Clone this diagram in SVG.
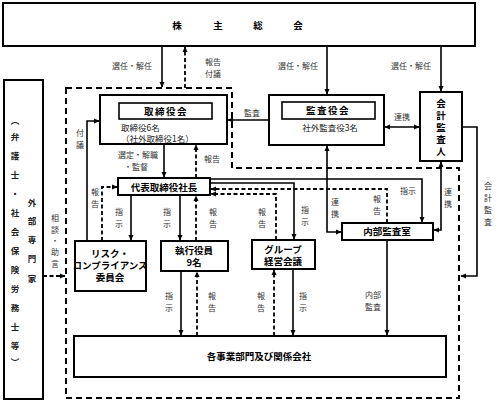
<svg xmlns="http://www.w3.org/2000/svg" width="503" height="412" viewBox="0 0 503 412">
<defs>
<style>
text{font-family:"Noto Sans CJK JP","Noto Sans",sans-serif;}
.box{fill:#fff;stroke:#000;stroke-width:2;}
.ibox{fill:#fff;stroke:#000;stroke-width:1.6;}
.t{font-size:9.5px;font-weight:bold;fill:#000;text-anchor:middle;}
.s{font-size:8.5px;fill:#222;}
.lb{font-size:8px;fill:#333;text-anchor:middle;}
.ln{fill:none;stroke:#000;stroke-width:1.6;}
.dl{fill:none;stroke:#000;stroke-width:1.8;stroke-dasharray:4 2.5;}
.region{fill:none;stroke:#000;stroke-width:2;stroke-dasharray:6 4;}
</style>
<marker id="ah" viewBox="0 0 10 10" refX="9" refY="5" markerWidth="6" markerHeight="6" markerUnits="userSpaceOnUse" orient="auto-start-reverse"><path d="M0,0.5 L10,5 L0,9.5 z" fill="#000"/></marker>
</defs>
<rect width="503" height="412" fill="#fff"/>

<path class="region" d="M66,88 H232 V168 H459 V398 H66 Z"/>

<g id="shareholders">
<rect class="box" x="3" y="3" width="472" height="43"/>
<text class="t" y="29" font-size="11"><tspan x="177">株</tspan><tspan x="218">主</tspan><tspan x="258">総</tspan><tspan x="298">会</tspan></text>
</g>

<g id="experts">
<rect class="box" x="4" y="80" width="39" height="319"/>
<text class="s" text-anchor="middle" font-size="9" font-weight="bold">
<tspan x="15" y="124">︵</tspan><tspan x="15" y="140">弁</tspan><tspan x="15" y="159">護</tspan><tspan x="15" y="178">士</tspan><tspan x="15" y="197">・</tspan><tspan x="15" y="216">社</tspan><tspan x="15" y="235">会</tspan><tspan x="15" y="254">保</tspan><tspan x="15" y="273">険</tspan><tspan x="15" y="292">労</tspan><tspan x="15" y="311">務</tspan><tspan x="15" y="330">士</tspan><tspan x="15" y="349">等</tspan><tspan x="15" y="365">︶</tspan>
</text>
<text class="s" text-anchor="middle" font-size="9" font-weight="bold">
<tspan x="32" y="206">外</tspan><tspan x="32" y="224">部</tspan><tspan x="32" y="243">専</tspan><tspan x="32" y="262">門</tspan><tspan x="32" y="282">家</tspan>
</text>
</g>

<g id="board">
<rect class="box" x="100" y="95" width="127" height="49"/>
<rect class="ibox" x="119" y="103" width="93" height="16"/>
<text class="t" x="166" y="115" letter-spacing="1.5">取締役会</text>
<text class="s" x="121" y="131">取締役6名</text>
<text class="s" x="121" y="142">（社外取締役1名）</text>
</g>

<g id="auditors">
<rect class="box" x="269" y="95" width="115" height="50"/>
<rect class="ibox" x="282" y="102" width="93" height="17"/>
<text class="t" x="328" y="114" letter-spacing="1.5">監査役会</text>
<text class="s" x="330" y="131" text-anchor="middle">社外監査役3名</text>
</g>

<g id="accounting-auditor">
<rect class="box" x="420" y="92" width="42" height="69"/>
<text class="t" font-size="9"><tspan x="441" y="107">会</tspan><tspan x="441" y="119">計</tspan><tspan x="441" y="131">監</tspan><tspan x="441" y="143">査</tspan><tspan x="441" y="155">人</tspan></text>
</g>

<g id="president">
<rect class="box" x="118" y="178" width="92" height="17"/>
<text class="t" x="164" y="190.5">代表取締役社長</text>
</g>

<g id="risk">
<rect class="box" x="75" y="241" width="71" height="50"/>
<text class="t" font-size="7.8"><tspan x="110" y="257">リスク・</tspan><tspan x="110" y="269">コンプライアンス</tspan><tspan x="110" y="281">委員会</tspan></text>
</g>

<g id="officers">
<rect class="box" x="161" y="241" width="67" height="30"/>
<text class="t" font-size="8"><tspan x="194" y="254">執行役員</tspan><tspan x="194" y="266">9名</tspan></text>
</g>

<g id="group-meeting">
<rect class="box" x="252" y="240" width="63" height="29"/>
<text class="t" font-size="7.8"><tspan x="283" y="253">グループ</tspan><tspan x="283" y="265">経営会議</tspan></text>
</g>

<g id="internal-audit">
<rect class="box" x="342" y="223" width="91" height="17"/>
<text class="t" x="387" y="235" font-size="9">内部監査室</text>
</g>

<g id="divisions">
<rect class="box" x="74" y="336" width="372" height="41"/>
<text class="t" x="259" y="360" font-size="9">各事業部門及び関係会社</text>
</g>

<g id="connectors">
<path class="ln" d="M162,46 V87" marker-end="url(#ah)"/>
<path class="dl" d="M185,88 V47" marker-end="url(#ah)"/>
<path class="ln" d="M327,46 V94" marker-end="url(#ah)"/>
<path class="ln" d="M441,46 V91" marker-end="url(#ah)"/>
<path class="ln" d="M269,120 H228" marker-end="url(#ah)"/>
<path class="ln" d="M385,127 H419" marker-start="url(#ah)" marker-end="url(#ah)"/>
<path class="ln" d="M462,127 H477 V276 H461" marker-end="url(#ah)"/>
<path class="ln" d="M164,144 V177" marker-end="url(#ah)"/>
<path class="dl" d="M196,178 V145" marker-end="url(#ah)"/>
<path class="ln" d="M87,241 V121 H99" marker-end="url(#ah)"/>
<path class="dl" d="M102,241 V187 H117" marker-end="url(#ah)"/>
<path class="ln" d="M131,195 V240" marker-end="url(#ah)"/>
<path class="ln" d="M180,195 V240" marker-end="url(#ah)"/>
<path class="dl" d="M196,241 V196" marker-end="url(#ah)"/>
<path class="ln" d="M210,179 H422 V222" marker-end="url(#ah)"/>
<path class="ln" d="M210,183 H294 V239" marker-end="url(#ah)"/>
<path class="dl" d="M387,223 V189 H211" marker-end="url(#ah)"/>
<path class="dl" d="M276,240 V194 H211" marker-end="url(#ah)"/>
<path class="ln" d="M327,146 V232 H341" marker-start="url(#ah)" marker-end="url(#ah)"/>
<path class="ln" d="M441,162 V230 H434" marker-start="url(#ah)" marker-end="url(#ah)"/>
<path class="ln" d="M387,240 V335" marker-end="url(#ah)"/>
<path class="ln" d="M181,271 V335" marker-end="url(#ah)"/>
<path class="dl" d="M197,336 V272" marker-end="url(#ah)"/>
<path class="dl" d="M274,336 V270" marker-end="url(#ah)"/>
<path class="ln" d="M293,269 V335" marker-end="url(#ah)"/>
<path class="dl" d="M43,276 H65" marker-end="url(#ah)"/>
</g>

<g id="labels">
<text class="lb" x="132" y="69">選任・解任</text>
<text class="lb" x="298" y="69">選任・解任</text>
<text class="lb" x="411" y="69">選任・解任</text>
<text class="lb"><tspan x="213" y="65">報告</tspan><tspan x="213" y="77">付議</tspan></text>
<text class="lb" x="252" y="116">監査</text>
<text class="lb" x="402" y="120">連携</text>
<text class="lb"><tspan x="80" y="136">付</tspan><tspan x="80" y="148">議</tspan></text>
<text class="lb"><tspan x="138" y="158">選定・解職</tspan><tspan x="136" y="170">・監督</tspan></text>
<text class="lb" x="212" y="162">報告</text>
<text class="lb"><tspan x="95" y="195">報</tspan><tspan x="95" y="207">告</tspan></text>
<text class="lb"><tspan x="119" y="215">指</tspan><tspan x="119" y="227">示</tspan></text>
<text class="lb"><tspan x="167" y="215">指</tspan><tspan x="167" y="227">示</tspan></text>
<text class="lb"><tspan x="213" y="215">報</tspan><tspan x="213" y="227">告</tspan></text>
<text class="lb"><tspan x="262" y="215">報</tspan><tspan x="262" y="227">告</tspan></text>
<text class="lb"><tspan x="305" y="213">指</tspan><tspan x="305" y="225">示</tspan></text>
<text class="lb"><tspan x="335" y="205">連</tspan><tspan x="335" y="217">携</tspan></text>
<text class="lb"><tspan x="377" y="202">報</tspan><tspan x="377" y="214">告</tspan></text>
<text class="lb" x="408" y="194">指示</text>
<text class="lb"><tspan x="448" y="195">連</tspan><tspan x="448" y="207">携</tspan></text>
<text class="lb"><tspan x="488" y="189">会</tspan><tspan x="488" y="201">計</tspan><tspan x="488" y="213">監</tspan><tspan x="488" y="225">査</tspan></text>
<text class="lb"><tspan x="55" y="221">相</tspan><tspan x="55" y="233">談</tspan><tspan x="55" y="244">・</tspan><tspan x="55" y="255">助</tspan><tspan x="55" y="267">言</tspan></text>
<text class="lb"><tspan x="169" y="299">指</tspan><tspan x="169" y="311">示</tspan></text>
<text class="lb"><tspan x="212" y="299">報</tspan><tspan x="212" y="311">告</tspan></text>
<text class="lb"><tspan x="261" y="299">報</tspan><tspan x="261" y="311">告</tspan></text>
<text class="lb"><tspan x="303" y="299">指</tspan><tspan x="303" y="311">示</tspan></text>
<text class="lb"><tspan x="373" y="298">内部</tspan><tspan x="373" y="310">監査</tspan></text>
</g>
</svg>
